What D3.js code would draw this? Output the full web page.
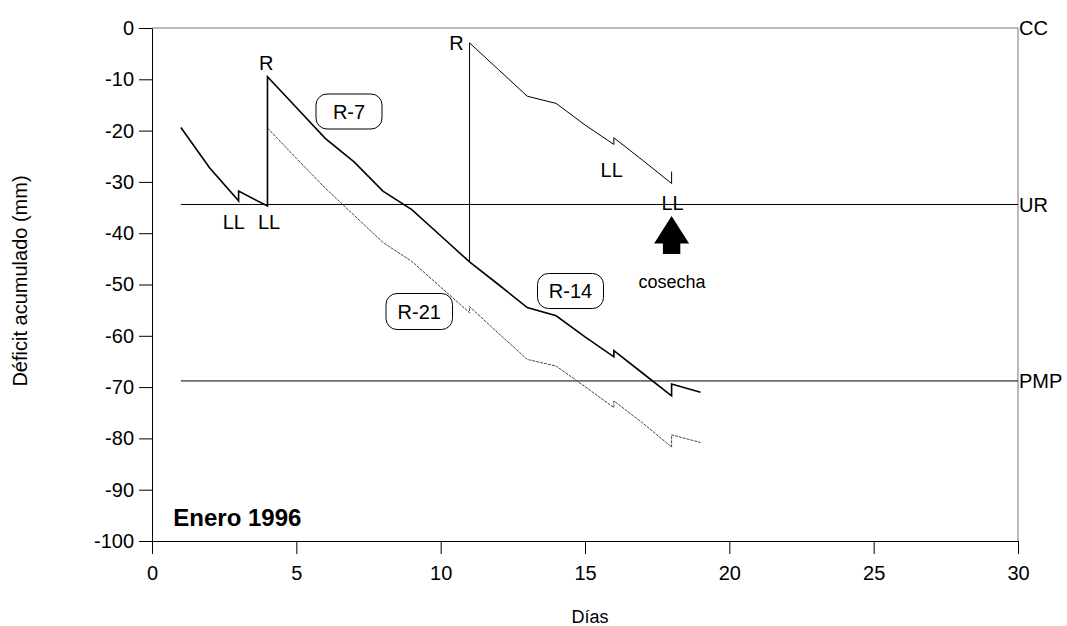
<!DOCTYPE html>
<html>
<head>
<meta charset="utf-8">
<script src="https://cdn.jsdelivr.net/npm/d3@7"></script>
<style>
  html, body { margin: 0; padding: 0; background: #fff; }
  svg { display: block; }
  text { font-family: "Liberation Sans", Arial, sans-serif; fill: #000; }
</style>
</head>
<body>
<svg id="chart" width="1067" height="626"></svg>
<script>
// ---- Data ----
// Main series (shared path, then R-14 after day 11)
const diasR14 = [1, 2, 3, 3, 4, 4, 5, 6, 7, 8, 9, 10, 11, 12, 13, 14, 15, 16, 16, 17, 18, 18, 19];
const deficitR14 = [-19.4, -27.3, -33.7, -31.8, -34.7, -9.5, -15.5, -21.5, -26.1, -31.8, -35.4, -40.5, -45.6, -50.0, -54.5, -56.1, -60.2, -64.1, -62.9, -67.3, -71.7, -69.4, -71.0];
// R-7 after the second irrigation (day 11)
const diasR7 = [11, 11, 12, 13, 14, 15, 16, 16, 17, 18, 18];
const deficitR7 = [-45.6, -2.9, -8.1, -13.3, -14.7, -18.9, -22.7, -21.4, -25.8, -30.3, -28.0];
// R-21
const diasR21 = [4, 5, 6, 7, 8, 9, 10, 11, 11, 12, 13, 14, 15, 16, 16, 17, 18, 18, 19];
const deficitR21 = [-19.5, -25.4, -31.2, -36.5, -41.8, -45.5, -50.5, -55.5, -54.3, -59.5, -64.6, -65.9, -69.9, -74.0, -72.7, -77.0, -81.7, -79.3, -80.8];
// Reference levels
const niveles = ["CC", "UR", "PMP"];
const nivelValores = [0, -34.4, -68.8];
// Ticks
const xTicks = [0, 5, 10, 15, 20, 25, 30];
const yTicks = [0, -10, -20, -30, -40, -50, -60, -70, -80, -90, -100];

// ---- Layout ----
const svg = d3.select("#chart");
const x = d3.scaleLinear().domain([0, 30]).range([152, 1018]);
const y = d3.scaleLinear().domain([-100, 0]).range([541, 28]);

// frame (top & right)
svg.append("line").attr("x1", x(0)).attr("x2", x(30)).attr("y1", y(0)).attr("y2", y(0))
  .attr("stroke", "#777").attr("stroke-width", 1);
svg.append("line").attr("x1", x(30)).attr("x2", x(30)).attr("y1", y(0)).attr("y2", y(-100))
  .attr("stroke", "#777").attr("stroke-width", 1);

// reference level lines (from day 1)
niveles.forEach((n, i) => {
  if (nivelValores[i] !== 0) {
    svg.append("line").attr("x1", x(1)).attr("x2", x(30))
      .attr("y1", y(nivelValores[i])).attr("y2", y(nivelValores[i]))
      .attr("stroke", "#000").attr("stroke-width", 1);
  }
  svg.append("text").attr("x", x(30) + 1).attr("y", y(nivelValores[i]))
    .attr("dy", "0.36em").attr("font-size", 20).text(n);
});

// axes
const fmt = d => String(d);
const yAxis = d3.axisLeft(y).tickValues(yTicks).tickFormat(fmt).tickSize(13).tickSizeOuter(0).tickPadding(5);
const xAxis = d3.axisBottom(x).tickValues(xTicks).tickFormat(fmt).tickSize(13).tickSizeOuter(0).tickPadding(12);
const gy = svg.append("g").attr("transform", `translate(${x(0)},0)`).call(yAxis);
const gx = svg.append("g").attr("transform", `translate(0,${y(-100)})`).call(xAxis);
[gx, gy].forEach(g => {
  g.selectAll("text").attr("font-size", 20).attr("font-family", '"Liberation Sans", Arial, sans-serif').attr("fill", "#000");
  g.selectAll("line,path").attr("stroke", "#000");
});

// lines
const line = d3.line().x(d => x(d[0])).y(d => y(d[1]));
svg.append("path").datum(diasR21.map((d, i) => [d, deficitR21[i]]))
  .attr("d", line).attr("fill", "none").attr("stroke", "#444").attr("stroke-width", 1)
  .attr("stroke-dasharray", "3,1");
svg.append("path").datum(diasR7.map((d, i) => [d, deficitR7[i]]))
  .attr("d", line).attr("fill", "none").attr("stroke", "#000").attr("stroke-width", 1);
svg.append("path").datum(diasR14.map((d, i) => [d, deficitR14[i]]))
  .attr("d", line).attr("fill", "none").attr("stroke", "#000").attr("stroke-width", 1.6);

// annotations
function label(t, px, py, size, anchor, weight) {
  svg.append("text").attr("x", px).attr("y", py).attr("font-size", size)
    .attr("text-anchor", anchor || "middle").attr("font-weight", weight || "normal").text(t);
}
label("R", 266.3, 70, 20);
label("R", 456.5, 49.5, 20);
label("LL", 233.8, 228.5, 20);
label("LL", 269, 228.5, 20);
label("LL", 611.7, 176.7, 20);
label("LL", 672.5, 210, 20);
label("cosecha", 672, 288, 18);
label("Enero 1996", 173.3, 526, 24, "start", "bold");

// boxed labels
function boxLabel(t, x0, y0, w, h) {
  svg.append("rect").attr("x", x0).attr("y", y0).attr("width", w).attr("height", h)
    .attr("rx", 11).attr("ry", 11).attr("fill", "#fff").attr("stroke", "#000").attr("stroke-width", 1);
  svg.append("text").attr("x", x0 + w / 2).attr("y", y0 + h / 2).attr("dy", "0.36em")
    .attr("text-anchor", "middle").attr("font-size", 20).text(t);
}
boxLabel("R-7", 316, 94, 66, 35);
boxLabel("R-21", 386, 293.5, 66.5, 36);
boxLabel("R-14", 537.5, 273.5, 66, 35);

// harvest arrow
const ax = x(18);
svg.append("path")
  .attr("d", `M${ax},216 L${ax + 17.5},243.5 L${ax + 8.7},243.5 L${ax + 8.7},254 L${ax - 8.7},254 L${ax - 8.7},243.5 L${ax - 17.5},243.5 Z`)
  .attr("fill", "#000");

// axis titles
label("Días", 590, 623, 18);
svg.append("text").attr("transform", `translate(27,281) rotate(-90)`)
  .attr("text-anchor", "middle").attr("font-size", 20).text("Déficit acumulado (mm)");
</script>
</body>
</html>
